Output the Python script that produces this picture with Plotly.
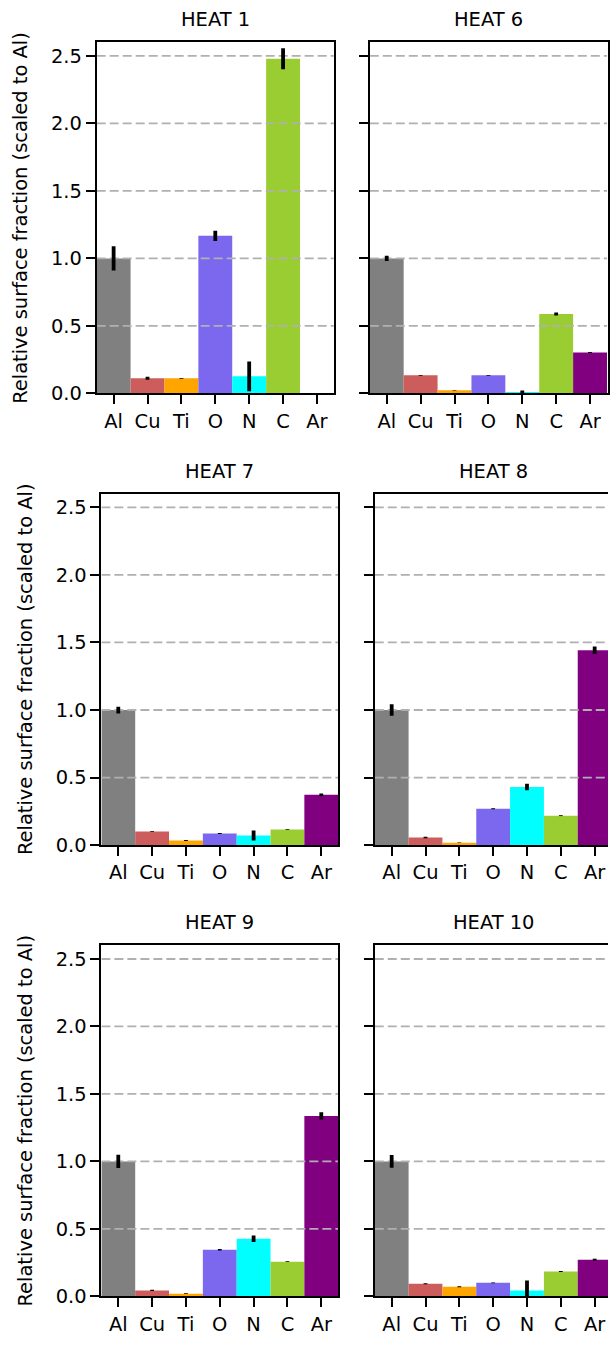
import plotly.graph_objects as go

# Elements on the x axis and their bar colours
elements = ["Al", "Cu", "Ti", "O", "N", "C", "Ar"]
colors = ["#808080", "#CD5C5C", "#FFA500", "#7B68EE", "#00FFFF", "#9ACD32", "#800080"]

# Relative surface fractions (scaled to Al) and their uncertainties
heat1 = [1.00, 0.112, 0.112, 1.167, 0.127, 2.478, 0.0]
heat1_err = [0.09, 0.011, 0.003, 0.038, 0.11, 0.078, 0.0]

heat6 = [1.00, 0.134, 0.024, 0.134, 0.010, 0.588, 0.303]
heat6_err = [0.02, 0.003, 0.002, 0.003, 0.012, 0.011, 0.004]

heat7 = [1.00, 0.100, 0.034, 0.086, 0.071, 0.115, 0.372]
heat7_err = [0.025, 0.003, 0.003, 0.003, 0.037, 0.003, 0.010]

heat8 = [1.00, 0.056, 0.017, 0.269, 0.430, 0.218, 1.443]
heat8_err = [0.043, 0.005, 0.002, 0.003, 0.024, 0.003, 0.027]

heat9 = [1.00, 0.044, 0.020, 0.345, 0.426, 0.257, 1.337]
heat9_err = [0.049, 0.005, 0.002, 0.005, 0.024, 0.003, 0.027]

heat10 = [1.00, 0.093, 0.071, 0.100, 0.044, 0.184, 0.272]
heat10_err = [0.047, 0.004, 0.003, 0.003, 0.073, 0.004, 0.007]

titles = ["HEAT 1", "HEAT 6", "HEAT 7", "HEAT 8", "HEAT 9", "HEAT 10"]
values = [heat1, heat6, heat7, heat8, heat9, heat10]
errors = [heat1_err, heat6_err, heat7_err, heat8_err, heat9_err, heat10_err]

y_ticks = [0.0, 0.5, 1.0, 1.5, 2.0, 2.5]
y_ticktext = ["0.0", "0.5", "1.0", "1.5", "2.0", "2.5"]
grid_levels = [0.5, 1.0, 1.5, 2.0, 2.5]
y_label = "Relative surface fraction (scaled to Al)"

W, H = 610, 1346
FONT = "DejaVu Sans"
FS = 19.44
LW = 1.8
TL = 9

# panel boxes in pixels: (left, right, top, bottom, x_max)
# right-hand panels run past the page edge, so their x range is cut short
UNIT = 34.0
panels = [
    (97.0, 335.0, 42.7, 397.0, 6.5),
    (371.0, 610.0, 42.7, 397.0, -0.5 + 239.0 / UNIT),
    (101.7, 339.3, 498.3, 852.7, 6.5),
    (376.0, 610.0, 498.3, 852.7, -0.5 + 234.0 / 33.94),
    (101.7, 339.3, 954.0, 1308.0, 6.5),
    (376.0, 610.0, 954.0, 1308.0, -0.5 + 234.0 / 33.94),
]

fig = go.Figure()
annotations = []
x_pos = list(range(len(elements)))

for i, (title, vals, errs) in enumerate(zip(titles, values, errors)):
    left, right, top, bottom, xmax = panels[i]
    n = i + 1
    xa = "x" if n == 1 else f"x{n}"
    ya = "y" if n == 1 else f"y{n}"
    xkey = "xaxis" if n == 1 else f"xaxis{n}"
    ykey = "yaxis" if n == 1 else f"yaxis{n}"

    # bars
    fig.add_trace(go.Bar(
        x=x_pos, y=vals, width=1.0,
        marker=dict(color=colors, line=dict(width=0)),
        xaxis=xa, yaxis=ya, showlegend=False, hoverinfo="skip",
    ))

    # dashed horizontal grid, drawn over the bars
    gx, gy = [], []
    for g in grid_levels:
        gx += [-0.5, 6.5, None]
        gy += [g, g, None]
    fig.add_trace(go.Scatter(
        x=gx, y=gy, mode="lines",
        line=dict(color="#b0b0b0", width=LW, dash="9px,4px"),
        xaxis=xa, yaxis=ya, showlegend=False, hoverinfo="skip",
    ))

    # error bars on top of everything
    fig.add_trace(go.Scatter(
        x=x_pos, y=vals, mode="markers",
        marker=dict(size=1, color="rgba(0,0,0,0)"),
        error_y=dict(type="data", array=errs, visible=True,
                     color="black", thickness=3.8, width=0),
        xaxis=xa, yaxis=ya, showlegend=False, hoverinfo="skip",
    ))

    is_left = (i % 2 == 0)
    clipped = (xmax < 6.5)

    fig.layout[xkey] = dict(
        domain=[left / W, right / W],
        range=[-0.5, xmax],
        tickmode="array", tickvals=x_pos, ticktext=elements,
        ticks="outside", ticklen=TL, tickwidth=LW, tickcolor="black",
        showline=True, linecolor="black", linewidth=LW, mirror=True,
        showgrid=False, zeroline=False, anchor=ya,
        tickfont=dict(family=FONT, size=FS, color="black"),
        fixedrange=True,
    )
    fig.layout[ykey] = dict(
        domain=[1 - bottom / H, 1 - top / H],
        range=[0, 2.6],
        tickmode="array", tickvals=y_ticks, ticktext=y_ticktext,
        showticklabels=is_left,
        ticks="outside", ticklen=TL, tickwidth=LW, tickcolor="black",
        showline=True, linecolor="black", linewidth=LW,
        mirror=(False if clipped else True),
        showgrid=False, zeroline=False, anchor=xa,
        tickfont=dict(family=FONT, size=FS, color="black"),
        fixedrange=True,
    )

    full_right = left + 7 * (right - left) / (xmax + 0.5)
    annotations.append(dict(
        text=title, xref="paper", yref="paper",
        x=(left + full_right) / 2 / W,
        y=1 - (top - 23) / H,
        xanchor="center", yanchor="middle", showarrow=False,
        font=dict(family=FONT, size=FS, color="black"),
    ))
    if is_left:
        annotations.append(dict(
            text=y_label, xref="paper", yref="paper",
            x=(left - 76) / W, y=1 - (top + bottom) / 2 / H,
            xanchor="center", yanchor="middle", textangle=-90,
            showarrow=False,
            font=dict(family=FONT, size=FS, color="black"),
        ))

fig.update_layout(
    width=W, height=H,
    margin=dict(l=0, r=0, t=0, b=0),
    paper_bgcolor="white", plot_bgcolor="white",
    annotations=annotations,
    showlegend=False,
)

fig.write_html("out.html")
